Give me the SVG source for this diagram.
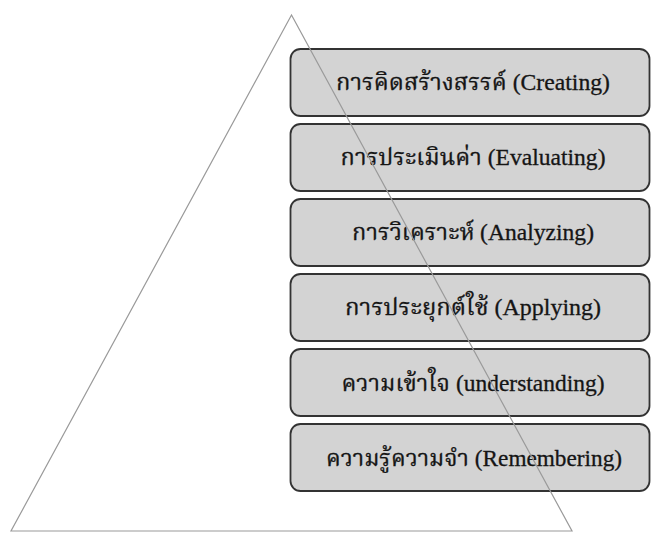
<svg xmlns="http://www.w3.org/2000/svg" width="651" height="534" viewBox="0 0 651 534">
<style>
.box{fill:#d3d3d3;stroke:#333;stroke-width:1.8}
.lbl{font-family:"Liberation Serif","Noto Serif Thai","Noto Sans Thai","DejaVu Serif",serif;font-size:23px;fill:#151515;stroke:#151515;stroke-width:0.3;text-anchor:middle}
.tri{fill:none;stroke:#9a9a9a;stroke-width:1.2}
</style>
<rect width="651" height="534" fill="#fff"/>
<g id="n1"><rect class="box" x="290.5" y="49" width="359" height="67" rx="10"/><text class="lbl" x="473" y="90" textLength="274" lengthAdjust="spacingAndGlyphs">การคิดสร้างสรรค์ (Creating)</text></g>
<g id="n2"><rect class="box" x="290.5" y="124" width="359" height="67" rx="10"/><text class="lbl" x="473" y="165" textLength="265" lengthAdjust="spacingAndGlyphs">การประเมินค่า (Evaluating)</text></g>
<g id="n3"><rect class="box" x="290.5" y="199" width="359" height="67" rx="10"/><text class="lbl" x="473" y="240" textLength="242" lengthAdjust="spacingAndGlyphs">การวิเคราะห์ (Analyzing)</text></g>
<g id="n4"><rect class="box" x="290.5" y="274" width="359" height="67" rx="10"/><text class="lbl" x="473" y="315" textLength="256" lengthAdjust="spacingAndGlyphs">การประยุกต์ใช้ (Applying)</text></g>
<g id="n5"><rect class="box" x="290.5" y="349" width="359" height="67" rx="10"/><text class="lbl" x="473" y="391" textLength="263" lengthAdjust="spacingAndGlyphs">ความเข้าใจ (understanding)</text></g>
<g id="n6"><rect class="box" x="290.5" y="424" width="359" height="67" rx="10"/><text class="lbl" x="474" y="466" textLength="296" lengthAdjust="spacingAndGlyphs">ความรู้ความจำ (Remembering)</text></g>
<g id="connectors"><polygon class="tri" points="291.5,15 11,531 572,531"/></g>
</svg>
